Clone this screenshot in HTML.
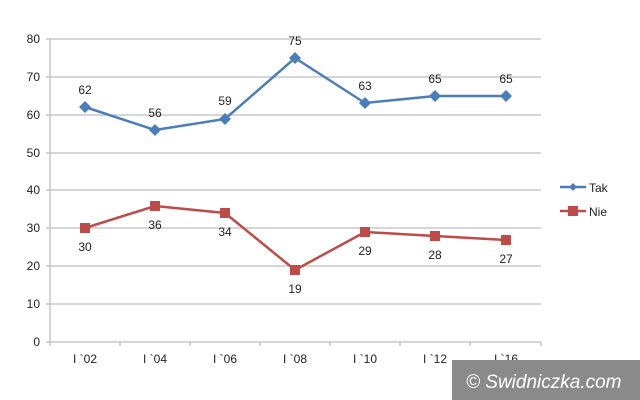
<!DOCTYPE html>
<html><head><style>body{margin:0;background:#fff}svg{display:block}text{font-family:"Liberation Sans",sans-serif}</style></head><body>
<svg width="640" height="400" viewBox="0 0 640 400">
<g stroke="#bdbdbd" stroke-width="1.3">
<line x1="50" y1="39" x2="541" y2="39"/><line x1="50" y1="77" x2="541" y2="77"/><line x1="50" y1="115" x2="541" y2="115"/><line x1="50" y1="153" x2="541" y2="153"/><line x1="50" y1="190" x2="541" y2="190"/><line x1="50" y1="228" x2="541" y2="228"/><line x1="50" y1="266" x2="541" y2="266"/><line x1="50" y1="304" x2="541" y2="304"/>
<line x1="50" y1="342" x2="541" y2="342"/><line x1="50" y1="39" x2="50" y2="346"/>
<line x1="46" y1="39" x2="50" y2="39"/><line x1="46" y1="77" x2="50" y2="77"/><line x1="46" y1="115" x2="50" y2="115"/><line x1="46" y1="153" x2="50" y2="153"/><line x1="46" y1="190" x2="50" y2="190"/><line x1="46" y1="228" x2="50" y2="228"/><line x1="46" y1="266" x2="50" y2="266"/><line x1="46" y1="304" x2="50" y2="304"/><line x1="46" y1="342" x2="50" y2="342"/>
<line x1="120" y1="342" x2="120" y2="346"/><line x1="190" y1="342" x2="190" y2="346"/><line x1="260" y1="342" x2="260" y2="346"/><line x1="330" y1="342" x2="330" y2="346"/><line x1="400" y1="342" x2="400" y2="346"/><line x1="470" y1="342" x2="470" y2="346"/><line x1="541" y1="342" x2="541" y2="346"/>
</g>
<g font-size="12" fill="#222" text-anchor="end">
<text x="40" y="43">80</text><text x="40" y="81">70</text><text x="40" y="119">60</text><text x="40" y="157">50</text><text x="40" y="194">40</text><text x="40" y="232">30</text><text x="40" y="270">20</text><text x="40" y="308">10</text><text x="40" y="346">0</text>
</g>
<g font-size="12" fill="#222" text-anchor="middle">
<text x="85" y="363">I `02</text><text x="155" y="363">I `04</text><text x="225" y="363">I `06</text><text x="295" y="363">I `08</text><text x="365" y="363">I `10</text><text x="435" y="363">I `12</text><text x="506" y="363">I `16</text>
</g>
<polyline fill="none" stroke="#4a7ebb" stroke-width="2.5" points="85,107 155,130 225,119 295,58 365,103 435,96 506,96"/>
<g fill="#4a7ebb">
<path d="M85,101l6,6l-6,6l-6,-6z"/><path d="M155,124l6,6l-6,6l-6,-6z"/><path d="M225,113l6,6l-6,6l-6,-6z"/><path d="M295,52l6,6l-6,6l-6,-6z"/><path d="M365,97l6,6l-6,6l-6,-6z"/><path d="M435,90l6,6l-6,6l-6,-6z"/><path d="M506,90l6,6l-6,6l-6,-6z"/>
</g>
<polyline fill="none" stroke="#be4b48" stroke-width="2.5" points="85,228 155,206 225,213 295,270 365,232 435,236 506,240"/>
<g fill="#be4b48">
<rect x="80" y="223" width="10" height="10"/><rect x="150" y="201" width="10" height="10"/><rect x="220" y="208" width="10" height="10"/><rect x="290" y="265" width="10" height="10"/><rect x="360" y="227" width="10" height="10"/><rect x="430" y="231" width="10" height="10"/><rect x="501" y="235" width="10" height="10"/>
</g>
<g font-size="12" fill="#222" text-anchor="middle">
<text x="85" y="94">62</text><text x="155" y="117">56</text><text x="225" y="105">59</text><text x="295" y="45">75</text><text x="365" y="90">63</text><text x="435" y="83">65</text><text x="506" y="83">65</text>
<text x="85" y="251">30</text><text x="155" y="229">36</text><text x="225" y="236">34</text><text x="295" y="293">19</text><text x="365" y="255">29</text><text x="435" y="259">28</text><text x="506" y="263">27</text>
</g>
<line x1="560" y1="187" x2="586" y2="187" stroke="#4a7ebb" stroke-width="2.5"/><path d="M573,183l4,4l-4,4l-4,-4z" fill="#4a7ebb"/>
<text x="589" y="192" font-size="12" fill="#222">Tak</text>
<line x1="560" y1="211" x2="586" y2="211" stroke="#be4b48" stroke-width="2.5"/><rect x="568" y="206" width="10" height="10" fill="#be4b48"/>
<text x="589" y="216" font-size="12" fill="#222">Nie</text>
<rect x="452" y="360" width="188" height="40" fill="#8a8a8a"/>
<text x="466" y="388" font-size="19" font-style="italic" fill="#fff">© Swidniczka.com</text>
</svg>
</body></html>
